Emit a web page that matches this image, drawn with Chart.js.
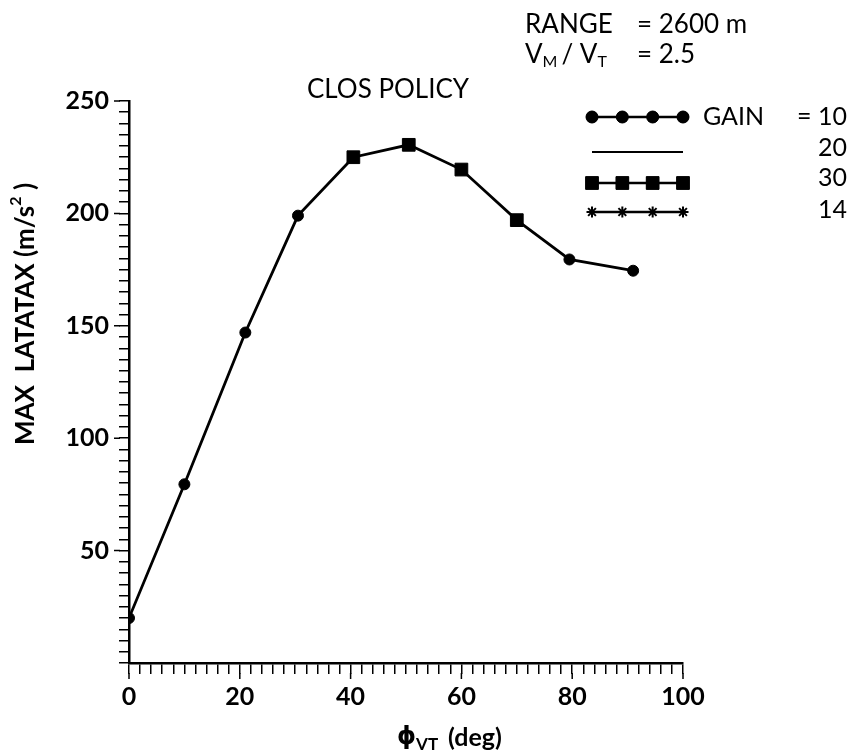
<!DOCTYPE html>
<html>
<head>
<meta charset="utf-8">
<script src="https://cdn.jsdelivr.net/npm/chart.js@4/dist/chart.umd.min.js"></script>
<style>
  html, body { margin: 0; padding: 0; background: #ffffff; }
  #wrap { width: 850px; height: 754px; }
</style>
</head>
<body>
<div id="wrap"><canvas id="c" width="850" height="754"></canvas></div>
<script>
// ---- data ----
const phiVT      = [0, 10, 21, 30.5, 40.5, 50.5, 60, 70, 79.5, 91];             // deg
const maxLatax   = [20, 79.5, 147, 199, 225, 230.5, 219.5, 197, 179.5, 174.5]; // m/s^2
const pointGain  = [10, 10, 10, 10, 30, 30, 30, 30, 10, 10];                    // gain used at each point
const legendGains = [10, 20, 30, 14];
const legendMarks = ['circle', 'line', 'rect', 'star'];
const xTickLabels = [0, 20, 40, 60, 80, 100];
const yTickLabels = [50, 100, 150, 200, 250];
const rangeText = ['RANGE', '= 2600 m'];
const ratioText = ['= 2.5'];
const plotTitle = 'CLOS POLICY';

const FONT = 'Lato, "DejaVu Sans", sans-serif';

const points = phiVT.map((x, i) => ({ x: x, y: maxLatax[i] }));

const annotations = {
  id: 'annotations',
  afterDraw(chart) {
    const ctx = chart.ctx;
    const area = chart.chartArea;
    ctx.save();
    ctx.fillStyle = '#000';
    ctx.strokeStyle = '#000';

    // longer major tick marks
    ctx.lineWidth = 1.5;
    ctx.beginPath();
    yTickLabels.forEach(v => {
      const py = chart.scales.y.getPixelForValue(v);
      ctx.moveTo(area.left - 9, py); ctx.lineTo(area.left - 15, py);
    });
    xTickLabels.forEach(v => {
      const px = chart.scales.x.getPixelForValue(v);
      ctx.moveTo(px, area.bottom + 10); ctx.lineTo(px, area.bottom + 16);
    });
    ctx.stroke();

    // plot title
    ctx.font = '26px ' + FONT;
    ctx.textAlign = 'center';
    ctx.textBaseline = 'middle';
    ctx.fillText(plotTitle, 388, 90);

    // header lines
    ctx.textAlign = 'left';
    ctx.font = '26px ' + FONT;
    ctx.fillText(rangeText[0], 525, 25);
    ctx.fillText(rangeText[1], 637, 25);
    // V_M / V_T with subscripts
    let x = 525, y = 55;
    ctx.font = '26px ' + FONT;
    ctx.fillText('V', x, y); x += ctx.measureText('V').width;
    ctx.font = '16px ' + FONT;
    ctx.fillText('M', x, y + 7); x += ctx.measureText('M').width + 4;
    ctx.font = '26px ' + FONT;
    ctx.fillText('/ V', x, y); x += ctx.measureText('/ V').width;
    ctx.font = '16px ' + FONT;
    ctx.fillText('T', x, y + 7);
    ctx.font = '26px ' + FONT;
    ctx.fillText(ratioText[0], 637, y);

    // legend
    const rowY = [117, 152, 183, 212];
    const textY = [117, 148, 178, 210];
    const x0 = 592, x1 = 683;
    legendGains.forEach((g, i) => {
      const yy = rowY[i];
      const mark = legendMarks[i];
      ctx.lineWidth = mark === 'line' ? 2 : 2.5;
      ctx.beginPath();
      ctx.moveTo(x0, yy); ctx.lineTo(x1, yy); ctx.stroke();
      if (mark !== 'line') {
        const n = 4;
        for (let k = 0; k < n; k++) {
          const px = x0 + (x1 - x0) * k / (n - 1);
          const opts = mark === 'circle' ? { pointStyle: 'circle', radius: 6, borderWidth: 1 }
                     : mark === 'rect' ? { pointStyle: 'rect', radius: 9, borderWidth: 1 }
                     : { pointStyle: 'star', radius: 5.5, borderWidth: 2 };
          ctx.fillStyle = '#000';
          ctx.strokeStyle = '#000';
          ctx.lineWidth = opts.borderWidth;
          Chart.helpers.drawPoint(ctx, opts, px, yy);
          if (mark !== 'star') { ctx.fill(); }
        }
      }
      ctx.font = '25px ' + FONT;
      ctx.textBaseline = 'middle';
      if (i === 0) {
        ctx.textAlign = 'left';
        ctx.fillText('GAIN', 703, textY[i]);
        ctx.textAlign = 'right';
        ctx.fillText('= ' + g, 847, textY[i]);
      } else {
        ctx.textAlign = 'right';
        ctx.fillText(String(g), 847, textY[i]);
      }
    });

    // y axis title (rotated)
    ctx.save();
    ctx.translate(26, 314);
    ctx.rotate(-Math.PI / 2);
    ctx.textAlign = 'left';
    ctx.textBaseline = 'middle';
    ctx.font = 'bold 26px ' + FONT;
    const t1 = 'MAX  LATATAX (m/s';
    const w1 = ctx.measureText(t1).width;
    const w3 = ctx.measureText(' )').width;
    ctx.font = 'bold 16px ' + FONT;
    const w2 = ctx.measureText('2').width;
    let sx = -(w1 + w2 + w3) / 2;
    ctx.font = 'bold 26px ' + FONT;
    ctx.fillText(t1, sx, 0); sx += w1;
    ctx.font = 'bold 16px ' + FONT;
    ctx.fillText('2', sx, -10); sx += w2;
    ctx.font = 'bold 26px ' + FONT;
    ctx.fillText(' )', sx, 0);
    ctx.restore();

    // x axis title
    ctx.textAlign = 'left';
    ctx.textBaseline = 'middle';
    let tx = 397, ty = 738;
    ctx.font = 'bold 24px "DejaVu Sans", sans-serif';
    ctx.fillText('\u03D5', tx, ty); tx += ctx.measureText('\u03D5').width;
    ctx.font = 'bold 17px ' + FONT;
    ctx.fillText('VT', tx, ty + 7); tx += ctx.measureText('VT').width + 10;
    ctx.font = 'bold 25px ' + FONT;
    ctx.fillText('(deg)', tx, ty);

    ctx.restore();
  }
};

new Chart(document.getElementById('c'), {
  type: 'line',
  data: {
    datasets: [{
      data: points,
      borderColor: '#000',
      borderWidth: 2.8,
      backgroundColor: '#000',
      tension: 0,
      pointStyle: (c) => pointGain[c.dataIndex] === 30 ? 'rect' : 'circle',
      pointRadius: (c) => pointGain[c.dataIndex] === 30 ? 9 : 5.5,
      pointBackgroundColor: '#000',
      pointBorderColor: '#000',
      pointBorderWidth: 1
    }]
  },
  options: {
    responsive: false,
    animation: false,
    events: [],
    layout: { padding: { left: 0, right: 167, top: 101, bottom: 0 } },
    plugins: { legend: { display: false }, tooltip: { enabled: false }, title: { display: false } },
    scales: {
      x: {
        type: 'linear',
        min: 0, max: 100,
        afterFit: (s) => { s.height = 91; },
        border: { display: true, color: '#000', width: 2.5 },
        grid: { display: true, drawOnChartArea: false, drawTicks: true, tickLength: 11, color: '#000', lineWidth: 1.5 },
        ticks: {
          stepSize: 2, autoSkip: false, maxRotation: 0, padding: 8,
          color: '#000',
          font: { family: FONT, size: 25, weight: 'bold' },
          callback: (v) => xTickLabels.includes(v) ? String(v) : ''
        }
      },
      y: {
        type: 'linear',
        min: 0, max: 250,
        afterFit: (s) => { s.width = 129; },
        border: { display: true, color: '#000', width: 2.5 },
        grid: { display: true, drawOnChartArea: false, drawTicks: true, tickLength: 10, color: '#000', lineWidth: 1.5 },
        ticks: {
          stepSize: 5, autoSkip: false, padding: 10,
          color: '#000',
          font: { family: FONT, size: 25, weight: 'bold' },
          callback: (v) => yTickLabels.includes(v) ? String(v) : ''
        }
      }
    }
  },
  plugins: [annotations]
});
</script>
</body>
</html>
